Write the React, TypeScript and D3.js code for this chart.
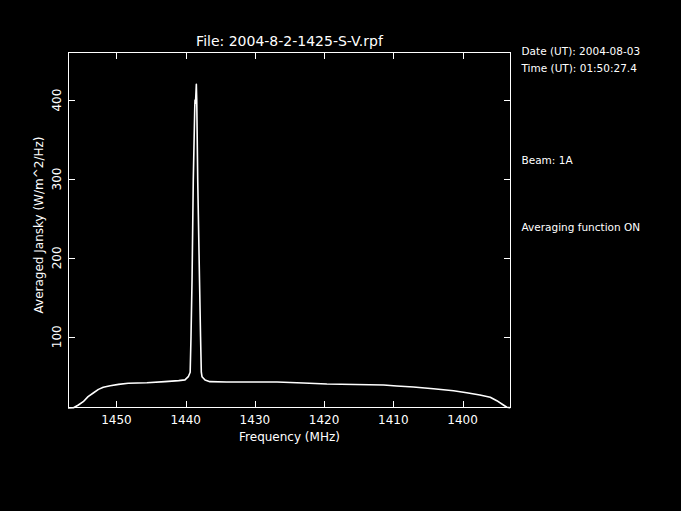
import React from "react";
import * as d3 from "d3";

const freqs: number[] = [
  1457.0, 1456.2, 1455.5, 1454.8, 1454.1, 1453.3, 1452.6, 1451.9, 1450.9, 1449.7,
  1448.3, 1445.6, 1443.0, 1441.0, 1440.1, 1439.62, 1439.35, 1439.23, 1439.08, 1438.9,
  1438.69, 1438.65, 1438.58, 1438.46, 1438.4, 1438.26, 1438.0, 1437.85, 1437.74, 1437.64,
  1437.2, 1436.5, 1434.1, 1426.8, 1423.0, 1419.6, 1411.4, 1409.5, 1407.1, 1404.2,
  1401.3, 1399.4, 1397.5, 1396.0, 1395.05, 1394.1, 1393.6, 1393.1,
];
const jansky: number[] = [
  9.8, 10.0, 13.4, 17.6, 24.0, 28.9, 33.2, 35.8, 37.8, 39.6,
  40.9, 41.6, 43.0, 44.3, 45.3, 49.3, 55, 99.6, 171.8, 298.6,
  389.8, 400, 396, 420, 400, 299, 172, 100, 55, 49.3,
  45, 43, 42.5, 42.5, 41.3, 40.0, 38.8, 37.5, 36.2, 34.0,
  31.5, 29.0, 26.1, 23.2, 18.9, 13.4, 10.5, 10.0,
];
const xTicks: number[] = [1450, 1440, 1430, 1420, 1410, 1400];
const yTicks: number[] = [100, 200, 300, 400];
const titleText = "File: 2004-8-2-1425-S-V.rpf";
const xLabel = "Frequency (MHz)";
const yLabel = "Averaged Jansky (W/m^2/Hz)";
const sideNotes: string[] = [
  "Date (UT): 2004-08-03",
  "Time (UT): 01:50:27.4",
  "Beam: 1A",
  "Averaging function ON",
];

const W = 681;
const H = 511;
const L = 68, R = 511, T = 52, B = 408;
const noteY = [55, 72, 164, 231];
const FONT = "'DejaVu Sans', sans-serif";

export default function App() {
  const x = d3.scaleLinear().domain([1457, 1393]).range([L, R]);
  const y = d3.scaleLinear().domain([9.6, 461]).range([B, T]);
  const pts: [number, number][] = freqs.map((f, i) => [f, jansky[i]]);
  const line = d3
    .line<[number, number]>()
    .x((d) => x(d[0]))
    .y((d) => y(d[1]));
  const tl = 7;
  return (
    <svg
      width={W}
      height={H}
      style={{ position: "fixed", left: 0, top: 0, background: "#000", display: "block" }}
      fontFamily={FONT}
    >
      <rect x={0} y={0} width={W} height={H} fill="#000" />
      <g shapeRendering="crispEdges" stroke="#fff" strokeWidth={1} fill="none">
        <rect x={L + 0.5} y={T + 0.5} width={R - L - 1} height={B - T - 1} />
        {xTicks.map((t) => (
          <g key={"xt" + t}>
            <line x1={Math.round(x(t)) + 0.5} x2={Math.round(x(t)) + 0.5} y1={B} y2={B - tl} />
            <line x1={Math.round(x(t)) + 0.5} x2={Math.round(x(t)) + 0.5} y1={T} y2={T + tl} />
          </g>
        ))}
        {yTicks.map((t) => (
          <g key={"yt" + t}>
            <line x1={L} x2={L + tl} y1={Math.round(y(t)) + 0.5} y2={Math.round(y(t)) + 0.5} />
            <line x1={R} x2={R - tl} y1={Math.round(y(t)) + 0.5} y2={Math.round(y(t)) + 0.5} />
          </g>
        ))}
      </g>
      <path d={line(pts) || ""} fill="none" stroke="#fff" strokeWidth={1.6} strokeLinejoin="round" />
      <g fill="#fff" fontSize={12}>
        {xTicks.map((t) => (
          <text key={"xl" + t} x={x(t)} y={424} textAnchor="middle">
            {t}
          </text>
        ))}
        {yTicks.map((t) => (
          <text
            key={"yl" + t}
            transform={`translate(60.5,${y(t)}) rotate(-90)`}
            textAnchor="middle"
          >
            {t}
          </text>
        ))}
        <text x={289.5} y={441} textAnchor="middle">
          {xLabel}
        </text>
        <text transform="translate(43,225) rotate(-90)" textAnchor="middle">
          {yLabel}
        </text>
        <text x={289.5} y={46} textAnchor="middle" fontSize={14}>
          {titleText}
        </text>
        {sideNotes.map((s, i) => (
          <text key={s} x={521.5} y={noteY[i]} fontSize={10.5}>
            {s}
          </text>
        ))}
      </g>
    </svg>
  );
}
